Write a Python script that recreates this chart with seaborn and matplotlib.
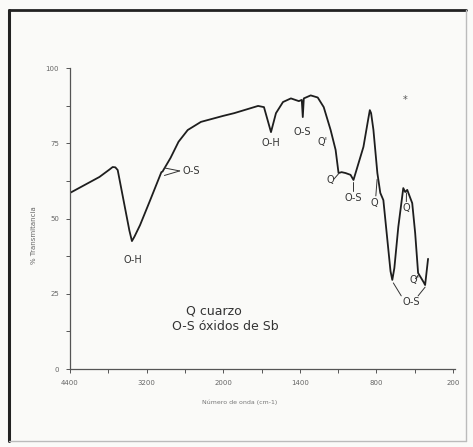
import numpy as np
import pandas as pd
import matplotlib
matplotlib.use("Agg")
import matplotlib.pyplot as plt
import seaborn as sns
from matplotlib.lines import Line2D

# ---- data ----
wavenumber = [4400, 3939, 3780, 3732, 3690, 3653, 3470, 3430, 3390, 3303, 3144,
              2969, 2950, 2937, 2826, 2700, 2556, 2349, 2000, 1914, 1727, 1681,
              1626, 1587, 1532, 1470, 1408, 1385, 1377, 1369, 1315, 1260, 1213,
              1159, 1120, 1097, 1073, 1042, 1003, 980, 902, 863, 852, 842, 824,
              793, 770, 746, 690, 676, 660, 629, 590, 575, 559, 520, 497, 474,
              430, 419, 396]
transmittance = [58.5, 63.8, 66.3, 67.1, 67.0, 66.1, 46.0, 42.5, 44.0, 47.8, 56.1,
                 65.4, 65.6, 66.1, 70.1, 75.5, 79.4, 82.1, 84.1, 85.0, 87.4, 87.0,
                 78.7, 85.0, 88.7, 89.9, 89.0, 89.4, 83.7, 89.9, 90.9, 90.2, 87.0,
                 79.4, 72.8, 65.1, 65.4, 65.1, 64.5, 62.8, 73.8, 83.4, 86.0, 85.0,
                 79.5, 65.1, 58.5, 56.1, 32.5, 29.6, 33.5, 47.2, 60.1, 58.8, 59.5,
                 55.1, 45.2, 31.9, 28.8, 27.9, 36.6]

x_ticks = [4400, 3200, 2000, 1400, 800, 200]
x_tick_labels = ["4400", "3200", "2000", "1400", "800", "200"]
x_minor = [3800, 2600, 1700, 1100, 500]
y_ticks = [0, 25, 50, 75, 100]
y_tick_labels = ["0", "25", "50", "75", "100"]
y_minor = [12.5, 37.5, 62.5, 87.5]

# band labels: text, wavenumber, %T
band_text = ["O-H", "O-S", "O-H", "O-S", "Q'", "Q", "O-S", "Q", "Q", "Q'", "O-S"]
band_wn = [3414, 2508, 1626, 1378, 1223, 1159, 980, 816, 567, 505, 528]
band_t = [36.2, 65.8, 75.1, 78.8, 75.5, 62.8, 56.7, 55.2, 53.4, 29.6, 22.4]

df = pd.DataFrame({"wn": wavenumber, "T": transmittance})

# piecewise linear wavenumber scale (scale change at 2000 cm-1), increasing in wn
def fwd(w):
    w = np.asarray(w, dtype=float)
    return -np.where(w >= 2000, (4400 - w) / 1200.0, 2 + (2000 - w) / 600.0)

def inv(p):
    p = -np.asarray(p, dtype=float)
    return np.where(p <= 2, 4400 - 1200.0 * p, 2000 - 600.0 * (p - 2))

sns.set_theme(style="white")
plt.rcParams['font.family'] = ['DejaVu Sans']

W, H = 473, 447
fig = plt.figure(figsize=(W / 100, H / 100), dpi=100, facecolor="#fafaf8")
ax = fig.add_axes([70 / W, (H - 369) / H, 385 / W, 301 / H])
ax.set_facecolor("none")

sns.lineplot(data=df, x="wn", y="T", sort=False, estimator=None, ax=ax,
             color="#1e1e1e", linewidth=1.3)

ax.set_xscale("function", functions=(fwd, inv))
ax.set_xlim(4400, 185)
ax.set_ylim(0, 100)

ax.set_xticks(x_ticks)
ax.set_xticklabels(x_tick_labels)
ax.set_xticks(x_minor, minor=True)
ax.set_yticks(y_ticks)
ax.set_yticklabels(y_tick_labels)
ax.set_yticks(y_minor, minor=True)

for s in ["top", "right"]:
    ax.spines[s].set_visible(False)
for s in ["left", "bottom"]:
    ax.spines[s].set_color("#555555")
    ax.spines[s].set_linewidth(0.9)

ax.tick_params(axis="both", which="both", direction="out", length=3, width=0.7,
               color="#555555", labelsize=5, labelcolor="#666666", pad=5,
               bottom=True, left=True)

ax.set_xlabel("Número de onda (cm-1)", fontsize=4.5, color="#777777")
ax.set_ylabel("% Transmitancia", fontsize=5, color="#666666")
ax.xaxis.set_label_coords(0.44, -0.10)
ax.yaxis.set_label_coords(-0.085, 0.445)

for t, xw, yv in zip(band_text, band_wn, band_t):
    ax.text(xw, yv, t, ha="center", va="center", fontsize=7, color="#333333")

# leader lines
leaders = [((2921, 66.8), (2683, 65.8)), ((2921, 64.3), (2683, 65.8)),
           ((1098, 64.8), (1135, 63.0)),
           ((980, 62.0), (980, 59.0)),
           ((795, 63.0), (805, 57.5)),
           ((565, 58.5), (566, 55.6)),
           ((474, 31.0), (495, 30.0)),
           ((668, 28.6), (606, 24.3)), ((474, 24.3), (419, 27.2))]
for (a, b) in leaders:
    ax.plot([a[0], b[0]], [a[1], b[1]], color="#333333", linewidth=0.7)

ax.text(0.374, 0.193, "Q cuarzo", transform=ax.transAxes, ha="center",
        va="center", fontsize=9, color="#333333")
ax.text(0.403, 0.140, "O-S óxidos de Sb", transform=ax.transAxes, ha="center",
        va="center", fontsize=9, color="#333333")

fig.text(405 / W, 1 - 100 / H, "*", fontsize=7, color="#555555", ha="center", va="center")

# scanned page frame
fig.add_artist(Line2D([9 / W, 9 / W], [1 - 10 / H, 1 - 441 / H], transform=fig.transFigure,
                      color="#222222", linewidth=2.2))
fig.add_artist(Line2D([9 / W, 466 / W], [1 - 10 / H, 1 - 10 / H], transform=fig.transFigure,
                      color="#222222", linewidth=2.0))
fig.add_artist(Line2D([466 / W, 466 / W], [1 - 10 / H, 1 - 441 / H], transform=fig.transFigure,
                      color="#bbbbbb", linewidth=1.0))
fig.add_artist(Line2D([9 / W, 466 / W], [1 - 441 / H, 1 - 441 / H], transform=fig.transFigure,
                      color="#bbbbbb", linewidth=1.0))

fig.savefig("out.png", dpi=100, facecolor=fig.get_facecolor())
